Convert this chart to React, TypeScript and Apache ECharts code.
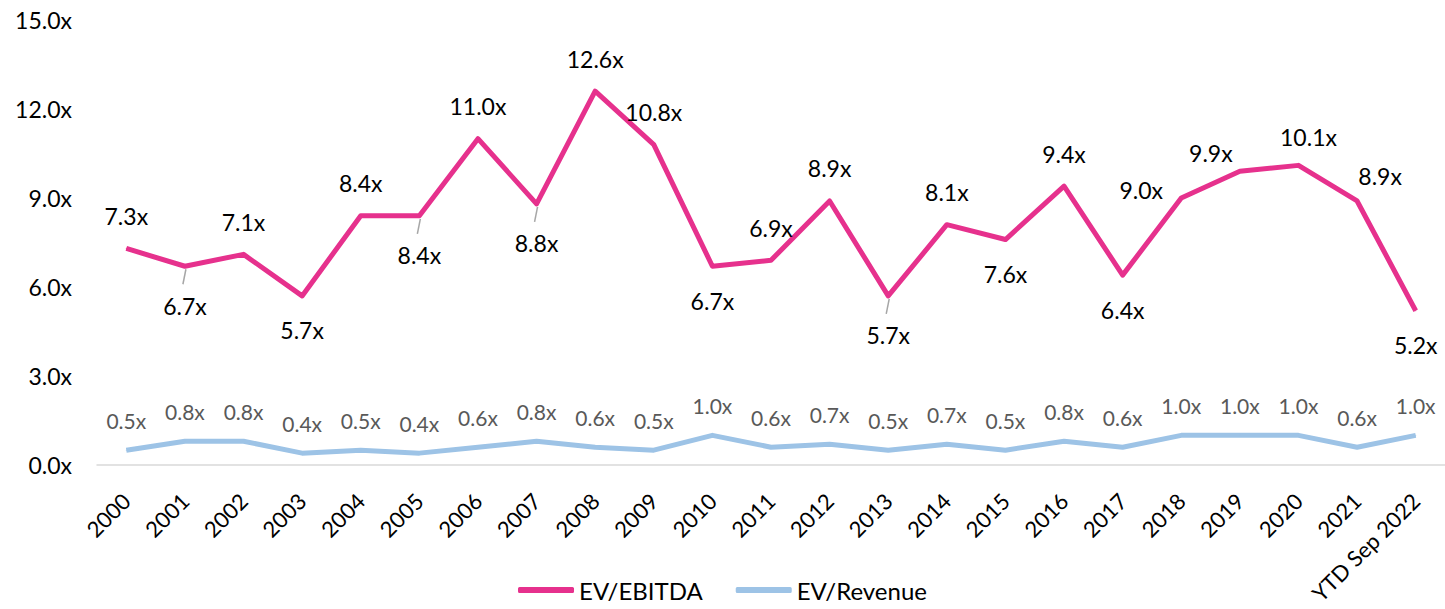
import React, { useEffect, useRef } from "react";
import * as echarts from "echarts";

const categories = [
  "2000", "2001", "2002", "2003", "2004", "2005", "2006", "2007", "2008", "2009",
  "2010", "2011", "2012", "2013", "2014", "2015", "2016", "2017", "2018", "2019",
  "2020", "2021", "YTD Sep 2022",
];
const evEbitda = [7.3, 6.7, 7.1, 5.7, 8.4, 8.4, 11.0, 8.8, 12.6, 10.8, 6.7, 6.9, 8.9, 5.7, 8.1, 7.6, 9.4, 6.4, 9.0, 9.9, 10.1, 8.9, 5.2];
const evRevenue = [0.5, 0.8, 0.8, 0.4, 0.5, 0.4, 0.6, 0.8, 0.6, 0.5, 1.0, 0.6, 0.7, 0.5, 0.7, 0.5, 0.8, 0.6, 1.0, 1.0, 1.0, 0.6, 1.0];
const yTicks = [0, 3, 6, 9, 12, 15];

// label placement (style config): "t" = above, "b" = below
const ebitdaLabelSide = ["t", "b", "t", "b", "t", "b", "t", "b", "t", "t", "b", "t", "t", "b", "t", "b", "t", "b", "t", "t", "t", "t", "b"];
const ebitdaLabelNudge: Record<number, [number, number]> = {
  1: [0, 5], 5: [0, 5], 7: [0, 5], 13: [0, 5],
  18: [-40, 24], 19: [-29, 14], 20: [10, 4], 21: [23, 8],
};
const leaderIdx = [1, 5, 7, 13];

const FONT = "Lato, 'Noto Sans', sans-serif";
const PINK = "#E6318D";
const BLUE = "#9DC3E6";

export default function App() {
  const ref = useRef<HTMLDivElement>(null);
  useEffect(() => {
    document.body.style.margin = "0";
    if (!ref.current) return;
    const chart = echarts.init(ref.current, undefined, { renderer: "svg" });
    const ebitdaData = evEbitda.map((v, i) => {
      const side = ebitdaLabelSide[i];
      const nudge = ebitdaLabelNudge[i] || [0, 0];
      return {
        value: v,
        label: {
          position: side === "t" ? "top" : "bottom",
          distance: side === "t" ? 20 : 22,
          offset: nudge,
        },
      };
    });
    chart.setOption({
      animation: false,
      textStyle: { fontFamily: FONT },
      grid: { left: 97, top: 20, width: 1355, height: 445, containLabel: false },
      legend: {
        bottom: 2,
        left: "center",
        itemWidth: 56,
        itemHeight: 6,
        itemGap: 33,
        icon: "roundRect",
        textStyle: { fontFamily: FONT, fontSize: 24, color: "#000" },
        data: ["EV/EBITDA", "EV/Revenue"],
      },
      xAxis: {
        type: "category",
        data: categories,
        boundaryGap: true,
        axisLine: { show: true, lineStyle: { color: "#D9D9D9", width: 1.5 } },
        axisTick: { show: false },
        axisLabel: {
          rotate: 45,
          interval: 0,
          margin: 32,
          fontFamily: FONT,
          fontSize: 22,
          color: "#000",
        },
      },
      yAxis: {
        type: "value",
        min: yTicks[0],
        max: yTicks[yTicks.length - 1],
        interval: 3,
        axisLine: { show: false },
        axisTick: { show: false },
        splitLine: { show: false },
        axisLabel: {
          margin: 25,
          fontFamily: FONT,
          fontSize: 23,
          color: "#000",
          formatter: (v: number) => v.toFixed(1) + "x",
        },
      },
      series: [
        {
          name: "EV/EBITDA",
          type: "line",
          data: ebitdaData,
          color: PINK,
          symbol: "circle",
          symbolSize: 1,
          showSymbol: true,
          lineStyle: { color: PINK, width: 5, join: "round" },
          itemStyle: { color: PINK },
          label: {
            show: true,
            fontFamily: FONT,
            fontSize: 23,
            lineHeight: 24,
            color: "#000",
            formatter: (p: any) => Number(p.value).toFixed(1) + "x",
          },
          z: 3,
        },
        {
          name: "EV/Revenue",
          type: "line",
          data: evRevenue,
          color: BLUE,
          symbol: "circle",
          symbolSize: 1,
          showSymbol: true,
          lineStyle: { color: BLUE, width: 5, join: "round" },
          itemStyle: { color: BLUE },
          label: {
            show: true,
            position: "top",
            distance: 18,
            fontFamily: FONT,
            fontSize: 21,
            lineHeight: 22,
            color: "#595959",
            formatter: (p: any) => Number(p.value).toFixed(1) + "x",
          },
          z: 3,
        },
        {
          name: "leaders",
          type: "custom",
          silent: true,
          data: leaderIdx.map((i) => [i, evEbitda[i]]),
          renderItem: (_params: any, api: any) => {
            const p = api.coord([api.value(0), api.value(1)]);
            return {
              type: "line",
              shape: { x1: p[0] + 1, y1: p[1] + 3, x2: p[0] - 2, y2: p[1] + 18 },
              style: { stroke: "#A6A6A6", lineWidth: 1.5 },
            };
          },
          z: 2,
        },
      ],
    });
    return () => chart.dispose();
  }, []);
  return <div ref={ref} style={{ width: 1445, height: 609 }} />;
}
